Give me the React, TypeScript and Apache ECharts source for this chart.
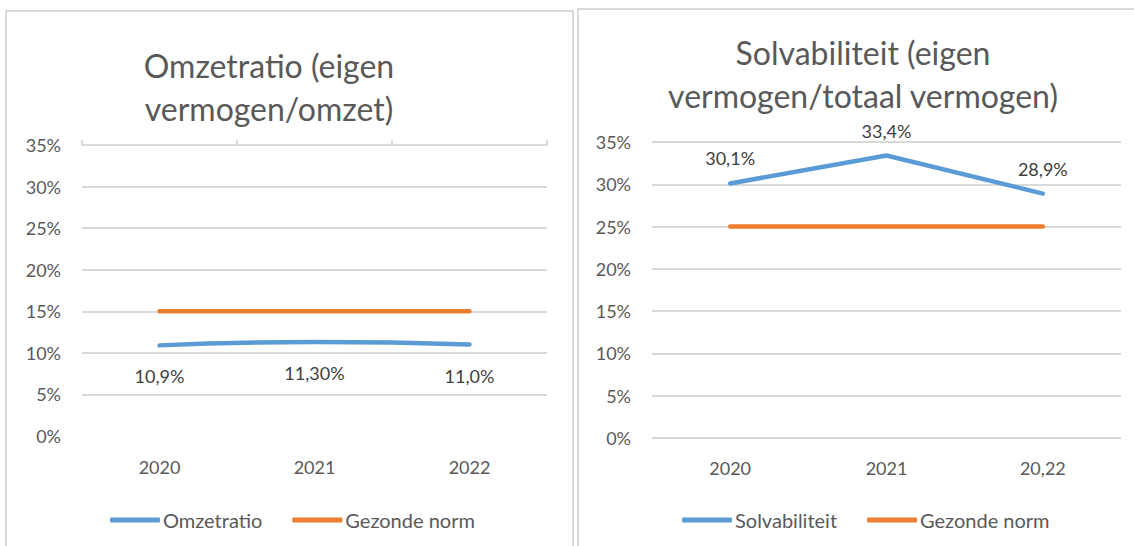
import React, { useEffect, useRef } from "react";
import * as echarts from "echarts";

const yearsLeft = ["2020", "2021", "2022"];
const yearsRight = ["2020", "2021", "20,22"];
const omzetratio = [10.9, 11.3, 11.0];
const omzetLabels = ["10,9%", "11,30%", "11,0%"];
const normLeft = [15, 15, 15];
const solvabiliteit = [30.1, 33.4, 28.9];
const solvLabels = ["30,1%", "33,4%", "28,9%"];
const normRight = [25, 25, 25];
const titleLeft = ["Omzetratio (eigen", "vermogen/omzet)"];
const titleRight = ["Solvabiliteit (eigen", "vermogen/totaal vermogen)"];

const FONT = "Lato, 'Open Sans', sans-serif";
const GREY = "#595959";
const GRID = "#D9D9D9";
const BLUE = "#5B9BD5";
const ORANGE = "#ED7D31";

export default function App() {
  const ref = useRef<HTMLDivElement>(null);
  useEffect(() => {
    if (!ref.current) return;
    const chart = echarts.init(ref.current, undefined, { renderer: "svg" });
    const yAxisBase = (gridIndex: number, showMin: boolean) => ({
      type: "value",
      gridIndex,
      min: 0,
      max: 35,
      interval: 5,
      axisLine: { show: false },
      axisTick: { show: false },
      axisLabel: { formatter: "{value}%", color: GREY, fontSize: 18, fontFamily: FONT, margin: 21 },
      splitLine: { show: true, showMinLine: showMin, showMaxLine: showMin, lineStyle: { color: GRID, width: 2 } },
    });
    const titleText = (lines: string[], cx: number, y0: number) =>
      lines.map((t, i) => ({
        type: "text",
        style: {
          text: t,
          x: cx,
          y: y0 + i * 43,
          textAlign: "center",
          textVerticalAlign: "middle",
          fill: GREY,
          font: `32px ${FONT}`,
        },
      }));
    const legendBase = {
      itemWidth: 50,
      itemHeight: 5,
      itemGap: 30,
      icon: "roundRect",
      top: 505,
      textStyle: { color: GREY, fontSize: 20, fontFamily: FONT, padding: [0, 0, 0, -2] },
    };
    const lineSeries = (name: string, xi: number, yi: number, data: number[], color: string, extra: any) => ({
      name,
      type: "line",
      xAxisIndex: xi,
      yAxisIndex: yi,
      data,
      symbol: "circle",
      symbolSize: 0,
      showSymbol: true,
      lineStyle: { color, width: 4.5, cap: "round" },
      itemStyle: { color },
      ...extra,
    });
    const labelStyle = { color: "#404040", fontSize: 18, fontFamily: FONT };
    chart.setOption({
      animation: false,
      textStyle: { fontFamily: FONT },
      graphic: [
        { type: "rect", shape: { x: 6, y: 11, width: 567, height: 600 }, style: { fill: "none", stroke: GRID, lineWidth: 2 } },
        { type: "rect", shape: { x: 578, y: 9, width: 600, height: 600 }, style: { fill: "none", stroke: GRID, lineWidth: 2 } },
        ...titleText(titleLeft, 269, 65),
        ...titleText(titleRight, 863, 52),
      ],
      grid: [
        { left: 82, right: 587, top: 145, bottom: 110 },
        { left: 652, right: 13, top: 142, bottom: 108 },
      ],
      legend: [
        { ...legendBase, data: ["Omzetratio", "Gezonde norm"], left: 105 },
        { ...legendBase, data: ["Solvabiliteit", "Gezonde norm "], left: 677, formatter: (n: string) => n.trim() },
      ],
      xAxis: [
        {
          type: "category",
          gridIndex: 0,
          data: yearsLeft,
          position: "bottom",
          axisLine: { show: false },
          axisTick: { show: false },
          axisLabel: { color: GREY, fontSize: 18, fontFamily: FONT, margin: 22 },
        },
        {
          type: "category",
          gridIndex: 0,
          data: yearsLeft,
          position: "top",
          axisLine: { show: true, lineStyle: { color: GRID, width: 2 } },
          axisTick: { show: true, length: 5, lineStyle: { color: GRID, width: 2 } },
          axisLabel: { show: false },
        },
        {
          type: "category",
          gridIndex: 1,
          data: yearsRight,
          axisLine: { show: false },
          axisTick: { show: false },
          axisLabel: { color: GREY, fontSize: 18, fontFamily: FONT, margin: 21 },
        },
      ],
      yAxis: [yAxisBase(0, false), yAxisBase(1, true)],
      series: [
        lineSeries("Omzetratio", 0, 0, omzetratio, BLUE, {
          smooth: true,
          z: 3,
          label: {
            show: true,
            position: "bottom",
            distance: 22,
            ...labelStyle,
            formatter: (p: any) => omzetLabels[p.dataIndex],
          },
        }),
        lineSeries("Gezonde norm", 0, 0, normLeft, ORANGE, { z: 2 }),
        lineSeries("Solvabiliteit", 2, 1, solvabiliteit, BLUE, {
          z: 3,
          label: {
            show: true,
            position: "top",
            distance: 16,
            ...labelStyle,
            formatter: (p: any) => solvLabels[p.dataIndex],
          },
        }),
        lineSeries("Gezonde norm ", 2, 1, normRight, ORANGE, { z: 2 }),
      ],
    });
    return () => chart.dispose();
  }, []);
  return (
    <div
      ref={ref}
      style={{ position: "absolute", left: 0, top: 0, width: 1134, height: 546, background: "#fff" }}
    />
  );
}
